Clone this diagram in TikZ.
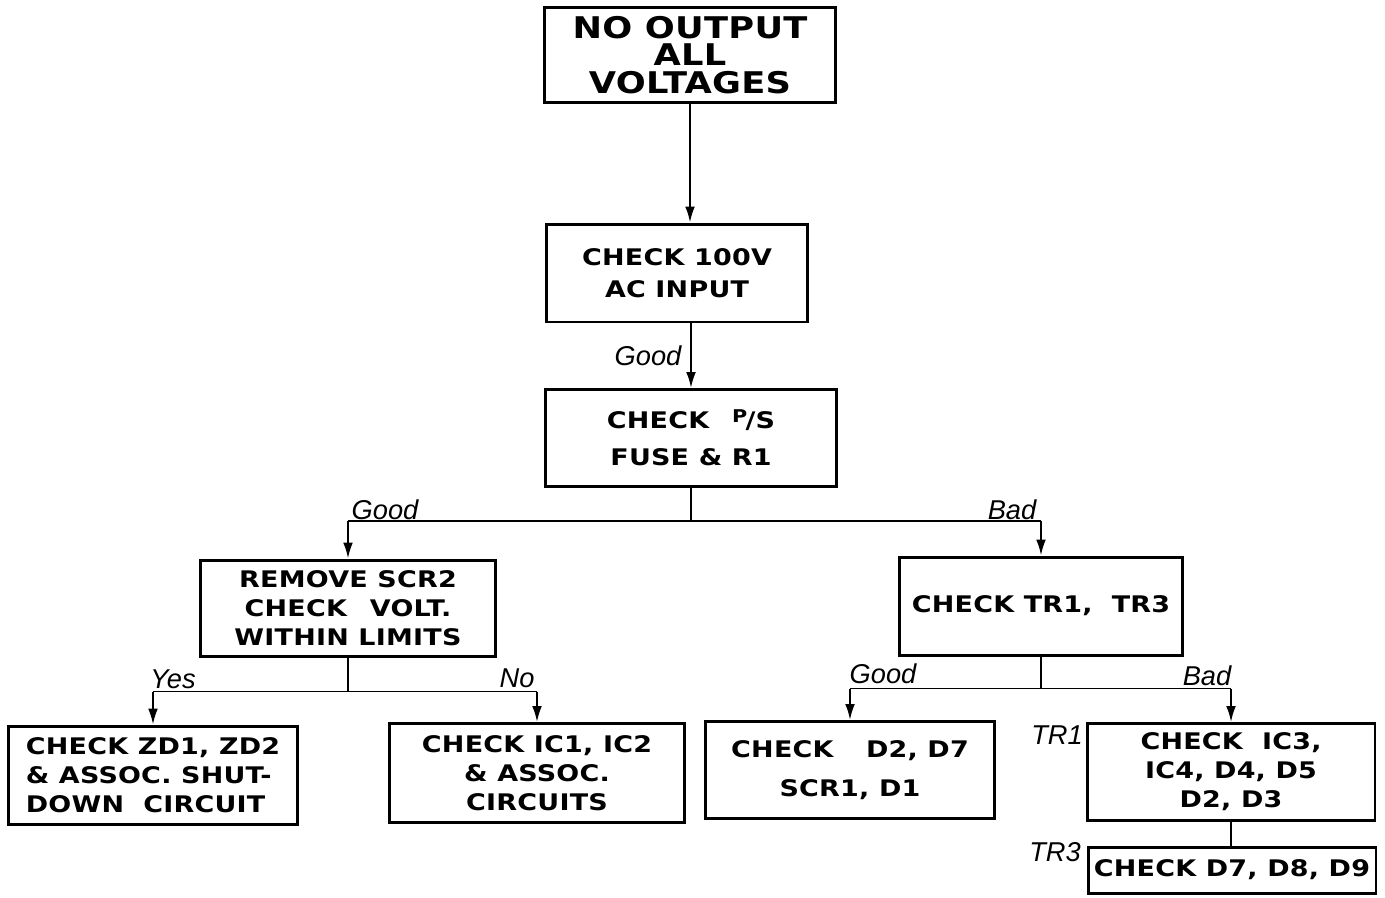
\documentclass[tikz,border=0pt]{standalone}
\usepackage{fontspec}
\usepackage{tikz}
\usetikzlibrary{arrows.meta}
\newfontfamily\boxfont{DejaVu Sans}[FakeStretch=1.18,LetterSpace=1]
\newfontfamily\lblfont{Liberation Sans}

\tikzset{
  box/.style={draw,line width=1.7pt,inner sep=0pt,align=center,
    font=\boxfont\bfseries\fontsize{13}{16.5}\selectfont},
  sz/.style 2 args={minimum width=#1cm,minimum height=#2cm},
  lbl/.style={inner sep=0pt,font=\lblfont\itshape\fontsize{15.5}{15}\selectfont},
  wire/.style={line width=1.1pt},
  arr/.style={wire,-{Latex[length=9pt,width=5.5pt]}}
}

\begin{document}
\begin{tikzpicture}[x=0.02cm,y=-0.02cm]
  \useasboundingbox (0,0) rectangle (1385,897);

  % boxes
  \node[box,sz={5.82}{1.90},font=\boxfont\bfseries\fontsize{17}{15.5}\selectfont]
    (top) at (690,55) {NO OUTPUT\\ALL\\VOLTAGES};
  \node[box,sz={5.24}{1.96},font=\boxfont\bfseries\fontsize{13}{18}\selectfont]
    (acin) at (677,273) {CHECK 100V\\AC INPUT};
  \node[box,sz={5.82}{1.94},font=\boxfont\bfseries\fontsize{13}{21}\selectfont]
    (fuse) at (691,438) {CHECK\quad\raisebox{0.45ex}{\fontsize{10}{10}\selectfont P}\kern-1pt/S\\FUSE \& R1};
  \node[box,sz={5.92}{1.92}] (scr) at (348,608) {REMOVE SCR2\\CHECK\quad VOLT.\\WITHIN LIMITS};
  \node[box,sz={5.66}{1.96}] (tr) at (1041,606) {CHECK TR1,\ \ TR3};
  \node[box,sz={5.80}{1.96},align=left] (zd) at (153,775) {CHECK ZD1, ZD2\\\& ASSOC. SHUT-\\DOWN\ \ CIRCUIT};
  \node[box,sz={5.90}{1.98}] (ic) at (537,773) {CHECK IC1, IC2\\\& ASSOC.\\CIRCUITS};
  \node[box,sz={5.78}{1.94},font=\boxfont\bfseries\fontsize{13}{22}\selectfont]
    (dd) at (850,770) {CHECK\quad\ D2, D7\\SCR1, D1};
  \node[box,sz={5.76}{1.94}] (ic3) at (1231,772) {CHECK\ \ IC3,\\IC4, D4, D5\\D2, D3};
  \node[box,sz={5.76}{0.92}] (d9) at (1232,870) {CHECK D7, D8, D9};

  % connectors
  \draw[arr] (top.south) -- (top.south |- acin.north);
  \draw[arr] (fuse.north |- acin.south) -- (fuse.north);

  \path (fuse.south) ++(0,33) coordinate (j1);
  \draw[wire] (fuse.south) -- (j1);
  \draw[wire] (j1 -| scr.north) -- (j1 -| tr.north);
  \draw[arr] (j1 -| scr.north) -- (scr.north);
  \draw[arr] (j1 -| tr.north) -- (tr.north);

  \path (scr.south) ++(0,34) coordinate (j2);
  \draw[wire] (scr.south) -- (j2);
  \draw[wire] (j2 -| zd.north) -- (j2 -| ic.north);
  \draw[arr] (j2 -| zd.north) -- (zd.north);
  \draw[arr] (j2 -| ic.north) -- (ic.north);

  \path (tr.south) ++(0,32) coordinate (j3);
  \draw[wire] (tr.south) -- (j3);
  \draw[wire] (j3 -| dd.north) -- (j3 -| ic3.north);
  \draw[arr] (j3 -| dd.north) -- (dd.north);
  \draw[arr] (j3 -| ic3.north) -- (ic3.north);

  \draw[wire] (ic3.south) -- (ic3.south |- d9.north);

  % labels
  \node[lbl] (good1) at (648,356) {Good};
  \node[lbl] (good2) at (385,510) {Good};
  \node[lbl] (bad1) at (1012,510) {Bad};
  \node[lbl] (yes) at (173,679) {Yes};
  \node[lbl] (no) at (517,678) {No};
  \node[lbl] (good3) at (883,674) {Good};
  \node[lbl] (bad2) at (1207,676) {Bad};
  \node[lbl] (tr1) at (1057,735) {TR1};
  \node[lbl] (tr3) at (1055,852) {TR3};
\end{tikzpicture}
\end{document}
